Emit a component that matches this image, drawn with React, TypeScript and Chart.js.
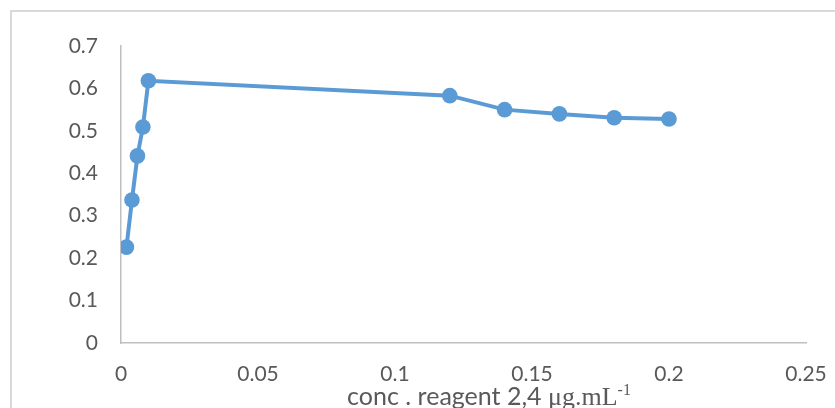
import React, { useEffect, useRef } from "react";
import { Chart, registerables } from "chart.js";

Chart.register(...registerables);

const concValues = [0.002, 0.004, 0.006, 0.008, 0.01, 0.12, 0.14, 0.16, 0.18, 0.2];
const absorbance = [0.226, 0.337, 0.441, 0.509, 0.618, 0.583, 0.55, 0.54, 0.531, 0.528];
const xTickLabels = ["0", "0.05", "0.1", "0.15", "0.2", "0.25"];
const yTickLabels = ["0", "0.1", "0.2", "0.3", "0.4", "0.5", "0.6", "0.7"];
const titleMain = "conc . reagent 2,4 ";
const titleUnit = "\u03BCg.mL";
const titleSup = "-1";

const TEXT = "#595959";
const AXIS = "#bfbfbf";
const BLUE = "#5b9bd5";

const framePlugin = {
  id: "frame",
  beforeDraw(chart: any) {
    const ctx = chart.ctx;
    ctx.save();
    ctx.fillStyle = "#ffffff";
    ctx.fillRect(0, 0, chart.width, chart.height);
    ctx.strokeStyle = "#d9d9d9";
    ctx.lineWidth = 2;
    ctx.strokeRect(11, 11, 1000, 1000);
    ctx.restore();
  },
  afterDraw(chart: any) {
    const ctx = chart.ctx;
    ctx.save();
    ctx.fillStyle = TEXT;
    ctx.textBaseline = "alphabetic";
    ctx.textAlign = "left";
    const baseline = 405;
    ctx.font = "25px Lato";
    const w1 = ctx.measureText(titleMain).width;
    ctx.font = "26px 'Liberation Serif'";
    const w2 = ctx.measureText(titleUnit).width;
    ctx.font = "16px 'Liberation Serif'";
    const w3 = ctx.measureText(titleSup).width;
    const total = w1 + w2 + w3;
    const cx = 489;
    let x = cx - total / 2;
    ctx.font = "25px Lato";
    ctx.fillText(titleMain, x, baseline);
    x += w1;
    ctx.font = "26px 'Liberation Serif'";
    ctx.fillText(titleUnit, x, baseline);
    x += w2;
    ctx.font = "16px 'Liberation Serif'";
    ctx.fillText(titleSup, x, baseline - 10);
    ctx.restore();
  },
};

export default function App() {
  const ref = useRef<HTMLCanvasElement | null>(null);
  useEffect(() => {
    if (!ref.current) return;
    const chart = new Chart(ref.current, {
      type: "scatter",
      data: {
        datasets: [
          {
            data: concValues.map((x, i) => ({ x, y: absorbance[i] })),
            showLine: true,
            borderColor: BLUE,
            backgroundColor: BLUE,
            borderWidth: 4,
            pointRadius: 7.8,
            pointHoverRadius: 7.8,
            pointBorderWidth: 0,
            tension: 0,
          },
        ],
      },
      options: {
        responsive: false,
        animation: false,
        events: [],
        layout: { padding: { left: 0, top: 46, right: 29, bottom: 0 } },
        plugins: { legend: { display: false }, tooltip: { enabled: false }, title: { display: false } },
        scales: {
          x: {
            type: "linear",
            min: 0,
            max: 0.25,
            afterFit(scale: any) {
              scale.height = 65;
              scale.paddingLeft = 0;
              scale.paddingRight = 0;
            },
            afterBuildTicks(scale: any) {
              scale.ticks = xTickLabels.map((l) => ({ value: parseFloat(l) }));
            },
            ticks: {
              color: TEXT,
              font: { family: "Lato", size: 21 },
              padding: 19,
              maxRotation: 0,
              autoSkip: false,
              callback: (v: any, i: number) => xTickLabels[i],
            },
            grid: { display: false, drawTicks: false },
            border: { display: true, color: AXIS, width: 1.5 },
          },
          y: {
            type: "linear",
            min: 0,
            max: 0.7,
            afterFit(scale: any) {
              scale.width = 121;
              scale.paddingTop = 0;
              scale.paddingBottom = 0;
            },
            afterBuildTicks(scale: any) {
              scale.ticks = yTickLabels.map((l) => ({ value: parseFloat(l) }));
            },
            ticks: {
              color: TEXT,
              font: { family: "Lato", size: 21 },
              padding: 23,
              autoSkip: false,
              callback: (v: any, i: number) => yTickLabels[i],
            },
            grid: { display: false, drawTicks: false },
            border: { display: true, color: AXIS, width: 1.5 },
          },
        },
      },
      plugins: [framePlugin],
    });
    return () => chart.destroy();
  }, []);
  return (
    <div style={{ position: "fixed", left: 0, top: 0, width: 835, height: 408, background: "#fff" }}>
      <canvas ref={ref} width={835} height={408} style={{ display: "block" }} />
    </div>
  );
}
